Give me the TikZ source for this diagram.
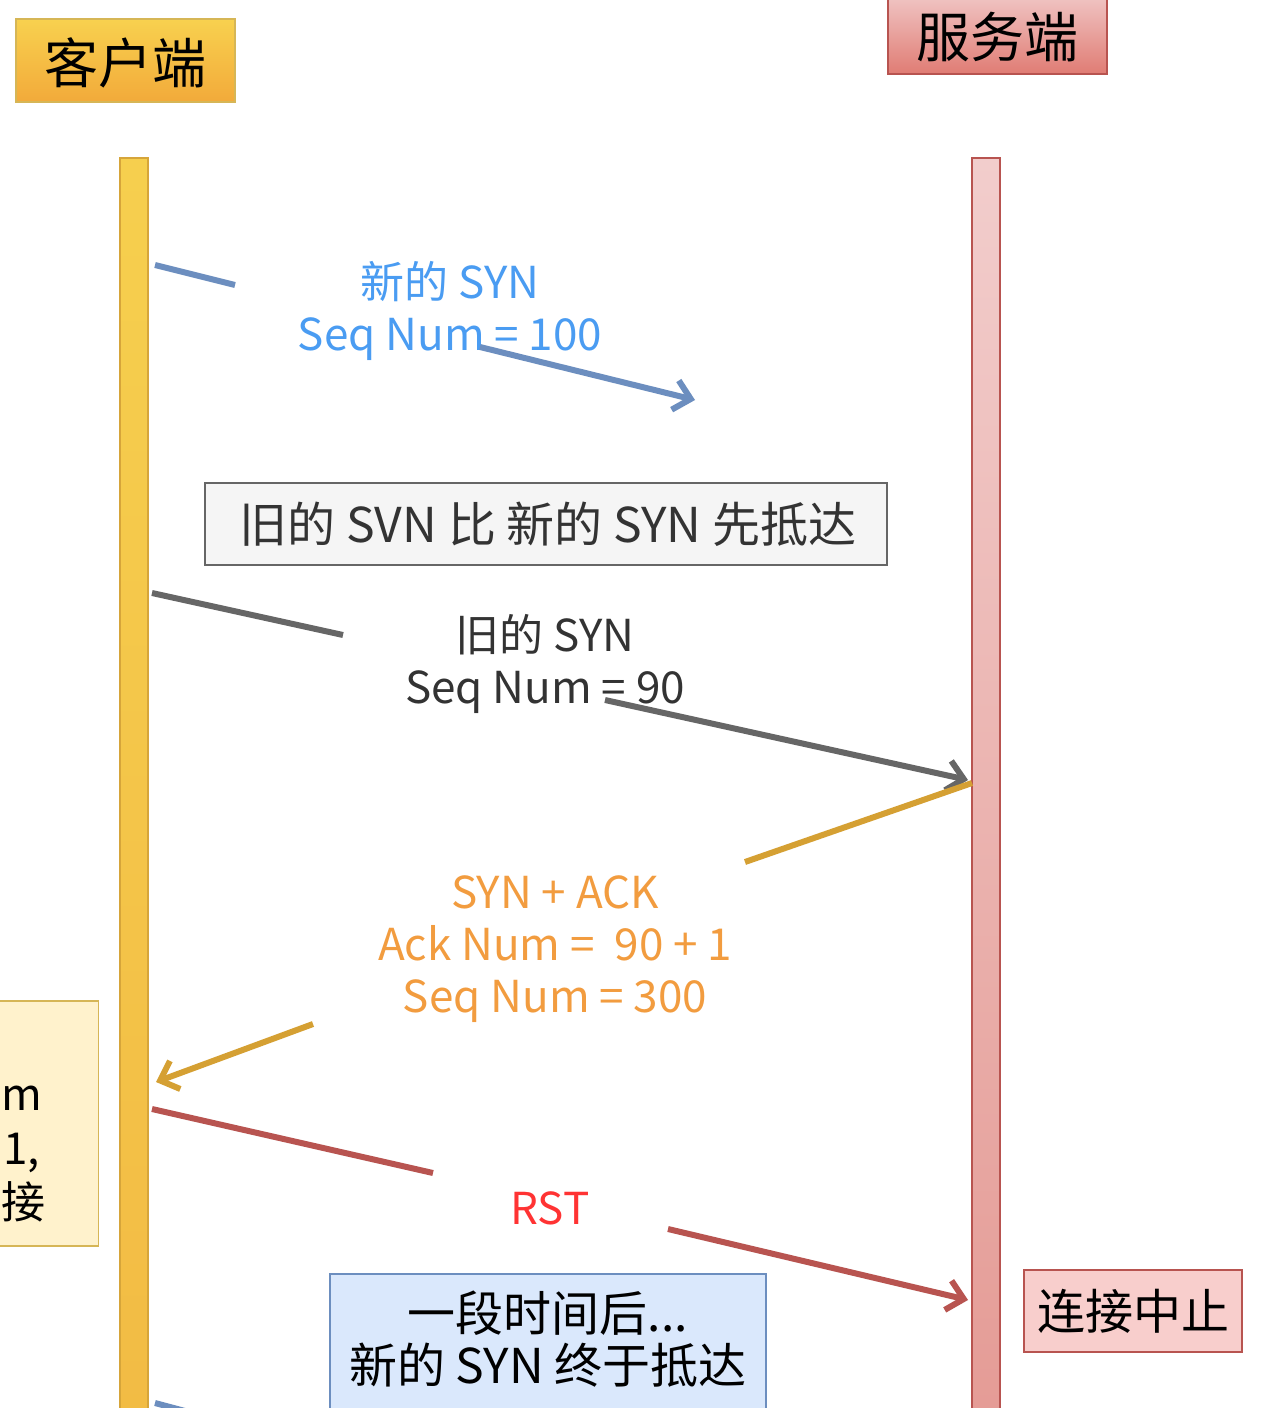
\documentclass[tikz,border=0pt]{standalone}
\usepackage{fontspec}
\setmainfont{Noto Sans CJK SC}
\usetikzlibrary{arrows.meta}
\definecolor{cliTop}{HTML}{F8D14F}
\definecolor{cliBot}{HTML}{F2AA3A}
\definecolor{cliBorder}{HTML}{D6B656}
\definecolor{lifeCliTop}{HTML}{F6CF4E}
\definecolor{lifeCliBot}{HTML}{F2BB44}
\definecolor{lifeCliBorder}{HTML}{D6A53A}
\definecolor{srvTop}{HTML}{F1C9C8}
\definecolor{srvBot}{HTML}{E07C74}
\definecolor{srvBorder}{HTML}{B85450}
\definecolor{lifeSrvTop}{HTML}{F2CDCC}
\definecolor{lifeSrvBot}{HTML}{E49A94}
\definecolor{blueLine}{HTML}{6C8EBF}
\definecolor{blueText}{HTML}{4A9CF2}
\definecolor{grayLine}{HTML}{666666}
\definecolor{grayText}{HTML}{333333}
\definecolor{goldLine}{HTML}{D5A033}
\definecolor{orangeText}{HTML}{F29C3F}
\definecolor{rstLine}{HTML}{B85450}
\definecolor{rstText}{HTML}{FF3333}
\definecolor{noteGrayFill}{HTML}{F5F5F5}
\definecolor{noteBlueFill}{HTML}{DAE8FC}
\definecolor{noteYellowFill}{HTML}{FFF2CC}
\definecolor{noteRedFill}{HTML}{F8CECC}
\tikzset{
  msgline/.style={line width=6pt},
  msgarrow/.style={line width=6pt,-{Straight Barb[length=16pt,width=30pt]}},
  header/.style={draw,line width=1.5pt,minimum width=219pt,minimum height=83pt,inner sep=0pt},
  notebox/.style={draw,line width=1.5pt,inner sep=0pt},
  bigtext/.style={font=\fontsize{54}{60}\selectfont},
  midtext/.style={font=\fontsize{48}{52}\selectfont,align=center},
  labeltext/.style={font=\fontsize{44}{52}\selectfont,align=center,inner sep=0pt},
  cuttext/.style={font=\fontsize{44}{52}\selectfont,anchor=base west,inner sep=0pt},
}
\begin{document}
\begin{tikzpicture}[x=1pt,y=-1pt]
\useasboundingbox (0,0) rectangle (1268,1408);
\clip (0,0) rectangle (1268,1408);
\fill[white] (0,0) rectangle (1268,1408);

% lifelines
\node[draw=lifeCliBorder,line width=1.5pt,top color=lifeCliTop,bottom color=lifeCliBot,minimum width=28pt,minimum height=1300pt,inner sep=0pt,anchor=north] (cliLife) at (134,157) {};
\node[draw=srvBorder,line width=1.5pt,top color=lifeSrvTop,bottom color=lifeSrvBot,minimum width=28pt,minimum height=1300pt,inner sep=0pt,anchor=north] (srvLife) at (986,157) {};

% headers
\node[header,draw=cliBorder,top color=cliTop,bottom color=cliBot] (cliHead) at (125.5,60.5) {};
\node[bigtext] (cliHeadText) at (125.5,63) {客户端};
\node[header,draw=srvBorder,top color=srvTop,bottom color=srvBot] (srvHead) at (997.5,32.5) {};
\node[bigtext] (srvHeadText) at (997.5,37) {服务端};

% message endpoints
\coordinate (a1s) at (155,265);
\coordinate (a1m) at (235,285);
\coordinate (a1n) at (480,347);
\coordinate (a1e) at (695,400);
\coordinate (a2s) at (152,593);
\coordinate (a2m) at (343,635);
\coordinate (a2n) at (605,700);
\coordinate (a2e) at (968,780);
\coordinate (a3s) at (972,783);
\coordinate (a3m) at (745,862);
\coordinate (a3n) at (313,1024);
\coordinate (a3e) at (156,1082);
\coordinate (a4s) at (152,1109);
\coordinate (a4m) at (433,1173);
\coordinate (a4n) at (668,1229);
\coordinate (a4e) at (968,1300);
\coordinate (a5s) at (155,1403);
\coordinate (a5e) at (185,1411);

% new SYN (first)
\draw[msgline,blueLine] (a1s) -- (a1m);
\node[labeltext,text=blueText] (lab1) at (450,311) {新的 SYN\\Seq Num = 100};
\draw[msgarrow,blueLine] (a1n) -- (a1e);

% gray note
\node[notebox,draw=grayLine,fill=noteGrayFill,minimum width=682pt,minimum height=82pt] (note1) at (546,524) {};
\node[midtext,text=grayText] (note1Text) at (548,524) {旧的 SVN 比 新的 SYN 先抵达};

% old SYN
\draw[msgline,grayLine] (a2s) -- (a2m);
\node[labeltext,text=grayText] (lab2) at (545,664) {旧的 SYN\\Seq Num = 90};
\draw[msgarrow,grayLine] (a2n) -- (a2e);

% SYN+ACK
\draw[msgline,goldLine] (a3s) -- (a3m);
\node[labeltext,text=orangeText] (lab3) at (555,949) {SYN + ACK\\Ack Num = \ 90 + 1\\Seq Num = 300};
\draw[msgarrow,goldLine] (a3n) -- (a3e);

% left yellow note (clipped)
\node[notebox,draw=cliBorder,fill=noteYellowFill,minimum width=240pt,minimum height=245pt,anchor=north east] (note2) at (99,1000) {};
\node[cuttext] (note2a) at (1,1110) {m};
\node[cuttext] (note2b) at (3,1164) {1,};
\node[cuttext] (note2c) at (1,1218) {接};

% RST
\draw[msgline,rstLine] (a4s) -- (a4m);
\node[labeltext,text=rstText] (lab4) at (550,1208) {RST};
\draw[msgarrow,rstLine] (a4n) -- (a4e);

% bottom blue note
\node[notebox,draw=blueLine,fill=noteBlueFill,minimum width=436pt,minimum height=170pt,anchor=north] (note3) at (548,1273) {};
\node[midtext] (note3Text) at (548,1339) {一段时间后...\\新的 SYN 终于抵达};

% red note
\node[notebox,draw=srvBorder,fill=noteRedFill,minimum width=218pt,minimum height=82pt] (note4) at (1133,1311) {};
\node[midtext] (note4Text) at (1133,1311) {连接中止};

% next message start (clipped)
\draw[msgline,blueLine] (a5s) -- (a5e);
\end{tikzpicture}
\end{document}
